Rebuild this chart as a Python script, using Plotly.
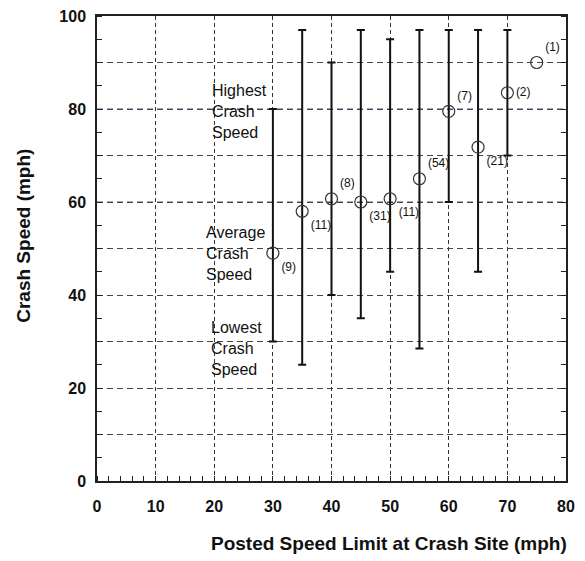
import plotly.graph_objects as go

# Crash speeds by posted speed limit
speed_limit = [30, 35, 40, 45, 50, 55, 60, 65, 70, 75]
avg_speed = [49, 58, 60.7, 60, 60.7, 65, 79.5, 71.8, 83.5, 90]
high_speed = [80, 97, 90, 97, 95, 97, 97, 97, 97, 90]
low_speed = [30, 25, 40, 35, 45, 28.5, 60, 45, 70, 90]
crash_count = [9, 11, 8, 31, 11, 54, 7, 21, 2, 1]
label_pos = ['bottom right', 'bottom right', 'top right', 'bottom right', 'bottom right',
             'top right', 'top right', 'bottom right', 'middle right', 'top right']

# legend-like notes placed beside the 30 mph bar
note_text = ['Highest<br>Crash<br>Speed', 'Average<br>Crash<br>Speed', 'Lowest<br>Crash<br>Speed']
note_x = [19.2, 18.2, 19.1]
note_y = [79.5, 49, 28.5]

highlight_levels = [60, 80]

font = 'Liberation Sans, Arial, sans-serif'

up = [h - a for h, a in zip(high_speed, avg_speed)]
down = [a - l for a, l in zip(avg_speed, low_speed)]

fig = go.Figure()

# range bars (no bar for the single 75 mph crash)
fig.add_trace(go.Scatter(
    x=speed_limit[:-1], y=avg_speed[:-1], mode='markers',
    marker=dict(size=1, color='rgba(0,0,0,0)'),
    error_y=dict(type='data', symmetric=False, array=up[:-1], arrayminus=down[:-1],
                 color='#111111', thickness=2, width=4),
    hoverinfo='skip', showlegend=False))

# average speed circles with crash counts
fig.add_trace(go.Scatter(
    x=speed_limit, y=avg_speed, mode='markers+text',
    marker=dict(symbol='circle-open', size=12, color='#333333', line=dict(width=1.2)),
    text=['(%d)' % c for c in crash_count], textposition=label_pos,
    textfont=dict(family=font, size=12, color='#111111'),
    cliponaxis=False, showlegend=False))

for lvl in highlight_levels:
    fig.add_hline(y=lvl, line=dict(color='#4c4c9c', width=1, dash='6px,4px'), layer='below')

for t, x, y in zip(note_text, note_x, note_y):
    fig.add_annotation(x=x, y=y, text=t, showarrow=False, xanchor='left', yanchor='middle',
                       align='left', font=dict(family=font, size=16, color='#111111'))

# axis titles as annotations so they sit where the original put them
fig.add_annotation(x=0.623, y=-0.135, xref='paper', yref='paper',
                   text='<b>Posted Speed Limit at Crash Site (mph)</b>', showarrow=False,
                   xanchor='center', yanchor='middle', font=dict(family=font, size=19, color='#111111'))
fig.add_annotation(x=-0.156, y=0.527, xref='paper', yref='paper', textangle=-90,
                   text='<b>Crash Speed (mph)</b>', showarrow=False,
                   xanchor='center', yanchor='middle', font=dict(family=font, size=19, color='#111111'))

ytick_vals = list(range(0, 101, 10))
ytick_text = [str(v) if v % 20 == 0 else '' for v in ytick_vals]

fig.update_layout(
    width=585, height=561,
    margin=dict(l=89, r=27, t=8, b=88),
    plot_bgcolor='white', paper_bgcolor='white',
    font=dict(family=font, color='#111111'),
    xaxis=dict(range=[0, 80], tickvals=list(range(0, 81, 10)), automargin=False,
               tickfont=dict(family=font, size=16, weight='bold'), ticklabeloverflow='allow',
               showline=True, linecolor='#222222', linewidth=1.5, mirror=True,
               showgrid=True, gridcolor='#333333', gridwidth=1, griddash='4px,3px',
               ticks='', ticklabelstandoff=10, zeroline=False,
               minor=dict(dtick=2, ticks='inside', ticklen=5, tickcolor='#222222', showgrid=False)),
    yaxis=dict(range=[0, 100], tickvals=ytick_vals, ticktext=ytick_text, automargin=False,
               tickfont=dict(family=font, size=16, weight='bold'), ticklabeloverflow='allow',
               showline=True, linecolor='#222222', linewidth=1.5, mirror='ticks',
               showgrid=True, gridcolor='#444444', gridwidth=1, griddash='6px,4px',
               ticks='', ticklabelstandoff=6, zeroline=False,
               minor=dict(dtick=5, ticks='inside', ticklen=5, tickcolor='#222222', showgrid=False)),
)

fig.write_html('out.html')
